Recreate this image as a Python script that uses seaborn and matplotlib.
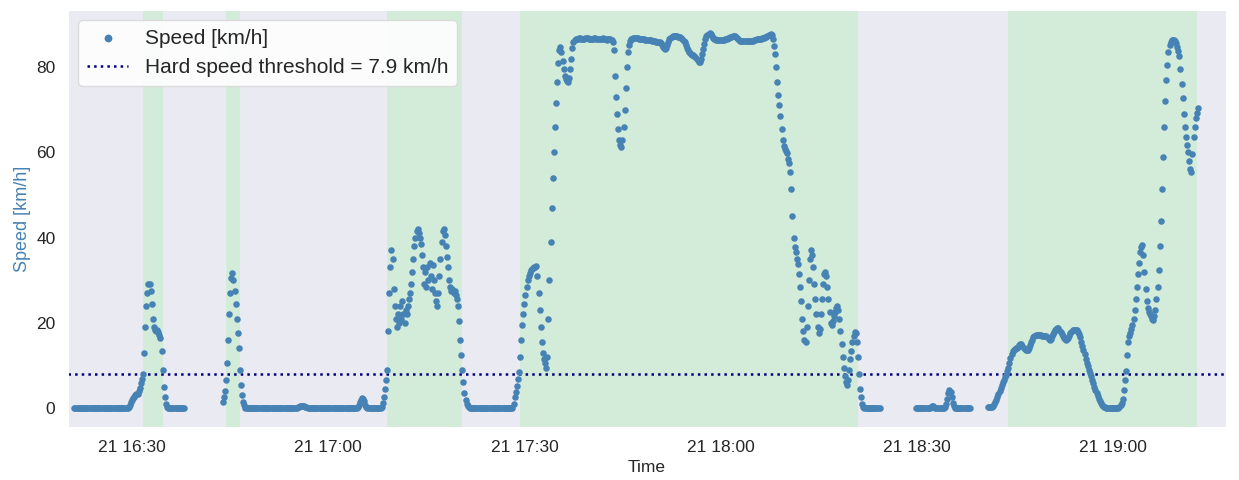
import matplotlib

matplotlib.use("Agg")
import matplotlib.dates as mdates
import matplotlib.pyplot as plt
import pandas as pd
import seaborn as sns

DAY = "2023-03-21"
SAMPLE_STEP = "10s"
THRESHOLD = 7.9

SEG1_START = "16:21:10"
SEG1_SPEED = [
    0, 0, 0, 0, 0,
    0, 0, 0, 0, 0, 0,
    0, 0, 0, 0, 0, 0,
    0, 0, 0, 0, 0, 0,
    0, 0, 0, 0, 0, 0,
    0, 0, 0, 0, 0, 0,
    0, 0, 0, 0, 0, 0,
    0, 0, 0, 0, 0, 0,
    0, 0, 0, 0.3, 0.8, 1.3,
    1.8, 2.3, 2.7, 3.0, 3.2, 3.4,
    4.0, 4.8, 5.8, 6.8, 8.0, 13,
    19, 24, 27, 29, 29.2, 27.5,
    24.5, 21, 19, 18.3, 18.0, 18.2,
    17.8, 17.2, 16.5, 13.5, 9.0, 5.0,
    2.5, 1.0, 0.2, 0, 0, 0,
    0, 0, 0, 0, 0, 0,
    0, 0, 0, 0, 0, 0,
    0,
]

SEG2_START = "16:43:50"
SEG2_SPEED = [
    1.5,
    2.5, 4.0, 6.5, 10.5, 16, 22,
    27, 30.5, 31.6, 30, 27.5, 24.5,
    21, 17.5, 14, 9, 5.5, 3.0,
    1.5, 0.6, 0.1, 0, 0, 0,
    0, 0, 0, 0, 0, 0,
    0, 0, 0, 0, 0, 0,
    0, 0, 0, 0, 0, 0,
    0, 0, 0, 0, 0, 0,
    0, 0, 0, 0, 0, 0,
    0, 0, 0, 0, 0, 0,
    0, 0, 0, 0, 0, 0,
    0, 0, 0.2, 0.3, 0.4, 0.5,
    0.5, 0.5, 0.4, 0.3, 0.2, 0.1,
    0, 0, 0, 0, 0, 0,
    0, 0, 0, 0, 0, 0,
    0, 0, 0, 0, 0, 0,
    0, 0, 0, 0, 0, 0,
    0, 0, 0, 0, 0, 0,
    0, 0, 0, 0, 0, 0,
    0, 0, 0, 0, 0, 0,
    0, 0, 0, 0.3, 0.8, 1.4,
    2.0, 2.3, 2.2, 1.6, 0.8, 0.3,
    0, 0, 0, 0, 0, 0,
    0, 0, 0, 0, 0, 0,
]

SEG3_START = "17:08:00"
SEG3_SPEED = [
    0, 0.3, 1.2, 2.5, 4.5, 6.5,
    9, 18, 27, 33, 37, 35,
    28, 24, 21, 19, 22, 20,
    24, 21, 25, 22, 20, 23,
    22, 24, 25.5, 27, 29, 32,
    35, 38, 40, 41.5, 42, 41,
    40, 38.5, 36, 33, 29, 32,
    28.5, 33, 30, 34, 31, 28,
    33.5, 30, 27, 25, 24, 27,
    31, 35, 39, 41.5, 42, 40.5,
    38, 35.5, 33, 30, 28.5, 27.5,
    28, 27, 27.5, 26.5, 25.5, 24,
    20.5, 16, 12.5, 9, 6, 3.5,
    2.0, 1.0, 0.5, 0.2, 0, 0,
    0, 0, 0, 0, 0, 0,
    0, 0, 0, 0, 0, 0,
    0, 0, 0, 0, 0, 0,
    0, 0, 0, 0, 0, 0,
    0, 0, 0, 0, 0, 0,
    0, 0, 0, 0, 0, 0,
]

SEG4_START = "17:28:00"
SEG4_SPEED = [
    0, 0, 1.0, 2.5, 3.8, 5.2,
    6.8, 8.5, 12, 16, 19.5, 22,
    24.5, 26.5, 28.5, 30, 31, 31.8,
    32.3, 32.7, 32.9, 33, 33.2, 33.3,
    31, 27, 23, 19, 15.5, 13,
    11.5, 10.5, 9.3, 12, 21, 30,
    39, 47, 54, 60, 66, 71.5,
    76.5, 81, 84, 84.8, 83.5, 81.5,
    79.5, 78, 77.2, 76.8, 76.6, 77.5,
    79.5, 82, 84.5, 85.8, 86.3, 86.5,
    86.6, 86.7, 86.8, 86.8, 86.7, 86.6,
    86.6, 86.7, 86.8, 86.9, 86.8, 86.7,
    86.6, 86.5, 86.6, 86.7, 86.8, 86.8,
    86.7, 86.6, 86.5, 86.5, 86.6, 86.7,
    86.8, 86.7, 86.6, 86.5, 86.4, 86.5,
    86.6, 86.5, 86.3, 86.0, 84, 78,
    73, 69, 65.5, 63, 61.8, 61.2,
    63, 66, 70, 75, 80, 83.5,
    85.3, 86.2, 86.5, 86.7, 86.8, 86.8,
    86.8, 86.8, 86.8, 86.7, 86.7, 86.6,
    86.6, 86.5, 86.5, 86.4, 86.4, 86.4,
    86.3, 86.3, 86.3, 86.2, 86.2, 86.2,
    86.1, 86.0, 86.0, 85.9, 85.8, 85.6,
    85.2, 84.8, 84.4, 84.2, 84.4, 85.2,
    86.0, 86.5, 86.9, 87.1, 87.2, 87.2,
    87.2, 87.2, 87.2, 87.1, 87.1, 87.0,
    86.8, 86.5, 86.2, 85.8, 85.2, 84.6,
    84.0, 83.6, 83.3, 83.1, 82.9, 82.8,
    82.6, 82.3, 81.9, 81.6, 81.3, 81.3,
    81.8, 83.0, 84.3, 85.5, 86.5, 87.2,
    87.6, 87.8, 87.9, 87.8, 87.4, 86.9,
    86.6, 86.5, 86.4, 86.4, 86.4, 86.4,
]

SEG5_START = "18:00:00"
SEG5_SPEED = [
    86.4, 86.4, 86.4, 86.4, 86.5, 86.6,
    86.7, 86.8, 86.9, 87.0, 87.1, 87.2,
    87.3, 87.3, 87.1, 86.8, 86.5, 86.3,
    86.2, 86.2, 86.2, 86.2, 86.2, 86.2,
    86.2, 86.2, 86.2, 86.2, 86.2, 86.2,
    86.2, 86.3, 86.4, 86.5, 86.6, 86.6,
    86.7, 86.7, 86.8, 86.8, 86.9, 87.0,
    87.1, 87.3, 87.5, 87.6, 87.7, 87.5,
    86.5, 85.0, 83.0, 80.0, 76.5, 73.5,
    71.0, 68.5, 65.5, 63.0, 61.5, 60.8,
    60.2, 59.8, 58.5, 57.5, 55.5, 51.5,
    45.0, 40.0, 37.8, 36.5, 35.0, 33.8,
    31.5, 28.5, 25.0, 21.0, 18.0, 16.0,
    15.5, 19, 24, 30, 35, 37,
    36, 33, 29, 25.5, 22, 19,
    17.5, 18.5, 22, 25.5, 29, 31.5,
    32, 31, 28.5, 25.5, 22.5, 20,
    19.5, 20.5, 21.5, 22.5, 23.5, 24,
    23, 21, 18, 15, 12, 9.5,
    7.5, 6.2, 5.5, 6.5, 9.0, 11.5,
    13.5, 15.5, 17, 17.9, 17.5, 15.5,
    12, 8, 4.5, 2.5, 1.0, 0.3,
    0, 0, 0, 0, 0, 0,
    0, 0, 0, 0, 0, 0,
    0, 0, 0,
]

SEG6_START = "18:29:50"
SEG6_SPEED = [
    0,
    0, 0, 0, 0, 0, 0,
    0, 0, 0, 0, 0, 0,
    0, 0.2, 0.5, 0.4, 0.2, 0.1,
    0, 0, 0, 0, 0, 0,
    0, 0, 0.3, 1.0, 2.2, 3.5,
    4.2, 3.8, 2.5, 1.2, 0.4, 0.1,
    0, 0, 0, 0, 0, 0,
    0, 0, 0, 0, 0, 0,
    0, 0,
]

SEG7_START = "18:40:50"
SEG7_SPEED = [
    0.3,
    0.2, 0.2, 0.2, 0.3, 0.5, 0.9,
    1.3, 1.9, 2.6, 3.3, 4.0, 4.7,
    5.4, 6.0, 6.6, 7.2, 7.8, 8.6,
    9.5, 10.6, 11.7, 12.6, 13.3, 13.7,
    13.9, 14.0, 14.1, 14.4, 14.8, 15.1,
    15.0, 14.6, 14.1, 13.8, 13.7, 13.6,
    13.7, 14.2, 14.9, 15.5, 16.0, 16.6,
    17.0, 17.1, 17.1, 17.1, 17.1, 17.1,
    17.1, 17.0, 17.0, 16.9, 16.9, 16.8,
    16.6, 16.3, 16.0, 16.2, 16.8, 17.4,
    17.8, 18.2, 18.5, 18.7, 18.7, 18.4,
    17.9, 17.3, 16.8, 16.4, 16.1, 16.0,
    16.1, 16.5, 17.0, 17.5, 17.9, 18.2,
    18.3, 18.4, 18.4, 18.3, 17.9, 17.3,
    16.6, 15.6, 14.6, 13.7, 12.6, 11.6,
    10.6, 9.8, 9.0, 8.2, 7.4, 6.6,
    5.8, 5.0, 4.2, 3.5, 2.8, 2.2,
    1.6, 1.2, 0.8, 0.5, 0.3, 0.2,
    0.1, 0, 0, 0, 0, 0,
    0, 0, 0, 0, 0, 0.1,
    0.3, 0.7, 1.2, 2.2, 4.2, 6.5,
    8.6, 12.5, 15.5, 16.8, 17.6, 18.5,
    19.5, 21.0, 23.0, 25.5, 28.5, 31.5,
    34.0, 36.5, 37.8, 38.2, 36.0, 32.0,
    28.0, 25.0, 23.5, 22.5, 22.0, 21.5,
    21.0, 20.7, 21.5, 23.0, 25.5, 28.5,
    32.5, 38.0, 44.0, 51.5, 59.0, 66.0,
    72.0, 77.0, 80.5, 83.5, 85.3, 86.0,
    86.4, 86.4, 86.3, 86.1, 85.6, 84.8,
    83.8, 82.5, 79.5, 76.0, 72.8, 69.0,
    66.0, 63.5, 61.8, 60.0, 58.0, 56.2,
    55.5, 59.5, 63.5, 66.0, 68.0, 69.3,
    70.3,
]

# periods flagged as "moving" (green bands)
SPAN_STARTS = ["16:31:44", "16:44:23", "17:08:59", "17:29:17", "18:44:02"]
SPAN_ENDS = ["16:34:42", "16:46:32", "17:20:28", "18:21:05", "19:12:52"]

# %% Build the frame
segments = [
    (SEG1_START, SEG1_SPEED),
    (SEG2_START, SEG2_SPEED),
    (SEG3_START, SEG3_SPEED),
    (SEG4_START, SEG4_SPEED),
    (SEG5_START, SEG5_SPEED),
    (SEG6_START, SEG6_SPEED),
    (SEG7_START, SEG7_SPEED),
]
frames = []
for start, speeds in segments:
    times = pd.date_range(f"{DAY} {start}", periods=len(speeds), freq=SAMPLE_STEP)
    frames.append(pd.DataFrame({"Time": times, "Speed": speeds}))
df = pd.concat(frames, ignore_index=True)

# %% Plot
sns.set_style("dark")
plt.rcParams["font.family"] = ["Liberation Sans", "DejaVu Sans"]

fig, ax = plt.subplots(figsize=(12.39, 4.8), dpi=100)
fig.subplots_adjust(left=68 / 1239, right=1226 / 1239, bottom=53 / 480, top=470 / 480)

sns.scatterplot(
    data=df, x="Time", y="Speed", color="steelblue", s=22, linewidth=0,
    label="Speed [km/h]", ax=ax, zorder=3,
)
ax.axhline(
    THRESHOLD, color="navy", linestyle=":", linewidth=1.8,
    label=f"Hard speed threshold = {THRESHOLD} km/h", zorder=2,
)
for s, e in zip(SPAN_STARTS, SPAN_ENDS):
    ax.axvspan(pd.Timestamp(f"{DAY} {s}"), pd.Timestamp(f"{DAY} {e}"),
               color="lightgreen", alpha=0.25, lw=0, zorder=0)

ax.set_xlim(pd.Timestamp(f"{DAY} 16:20:12"), pd.Timestamp(f"{DAY} 19:17:18"))
ax.set_ylim(-4.45, 93.4)
ax.xaxis.set_major_locator(mdates.MinuteLocator(byminute=[0, 30]))
ax.xaxis.set_major_formatter(mdates.DateFormatter("%d %H:%M"))
ax.set_yticks([0, 20, 40, 60, 80])
ax.tick_params(labelsize=12.5, length=0, pad=9, labelcolor=".15")

ax.set_xlabel("Time", fontsize=12.5, color=".15")
ax.set_ylabel("Speed [km/h]", fontsize=13, color="steelblue")

ax.legend(loc="upper left", fontsize=15, facecolor="white", edgecolor="0.85",
          framealpha=0.9, markerscale=1.2)

fig.savefig("out.png", dpi=100)
plt.close()
